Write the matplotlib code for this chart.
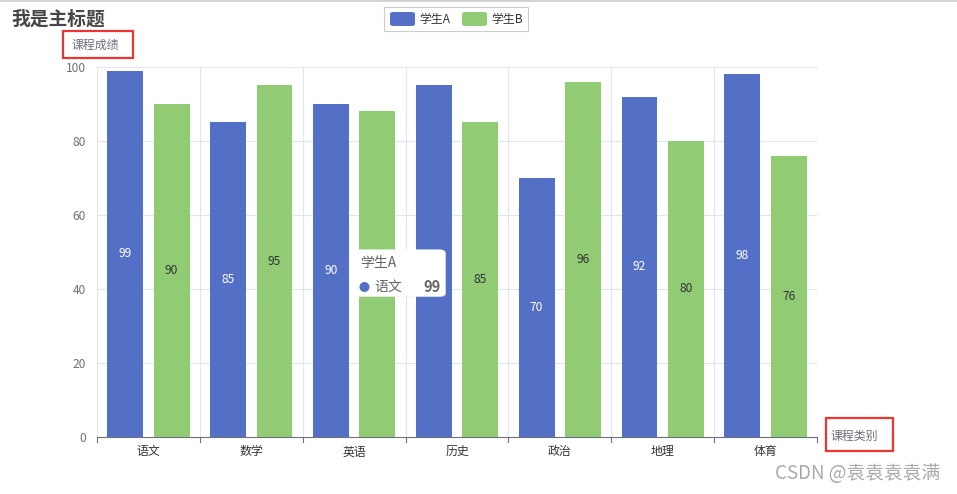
import matplotlib.pyplot as plt
from matplotlib.patches import Rectangle, FancyBboxPatch, Ellipse
import numpy as np

plt.rcParams['font.family'] = ['Noto Sans CJK SC', 'DejaVu Sans']

subjects = ['语文', '数学', '英语', '历史', '政治', '地理', '体育']
student_a = [99, 85, 90, 95, 70, 92, 98]
student_b = [90, 95, 88, 85, 96, 80, 76]
y_ticks = [0, 20, 40, 60, 80, 100]

W, H = 957, 494
fig = plt.figure(figsize=(W / 100, H / 100), dpi=100)


def fx(px):
    return px / W


def fy(py):
    return 1 - py / H


blue = '#5470c6'
green = '#91cc75'
axis_col = '#6e7079'
grid_col = '#e0e6f1'

ax = fig.add_axes([fx(97), fy(437), fx(817) - fx(97), fy(67) - fy(437)])
x = np.arange(len(subjects))
bw = 0.348
off = 0.226
ax.bar(x - off, student_a, bw, color=blue, zorder=3)
ax.bar(x + off, student_b, bw, color=green, zorder=3)

for i in range(len(subjects)):
    ax.text(x[i] - off, student_a[i] / 2, str(student_a[i]), ha='center', va='center',
            color='white', fontsize=8.6, zorder=4)
    # the 英语 label of 学生B sits under the tooltip
    if i != 2:
        ax.text(x[i] + off, student_b[i] / 2, str(student_b[i]), ha='center', va='center',
                color='#333333', fontsize=8.6, zorder=4)

ax.set_xlim(-0.5, len(subjects) - 0.5)
ax.set_ylim(0, 100)
ax.set_yticks(y_ticks)
ax.set_yticklabels([str(v) for v in y_ticks], color=axis_col, fontsize=8.6)
ax.set_xticks(x)
ax.set_xticklabels(subjects, color='#333333', fontsize=8.6)
ax.tick_params(axis='y', length=0, pad=8)
ax.tick_params(axis='x', length=0, pad=6)
for b in np.arange(-0.5, len(subjects), 1.0):
    ax.axvline(b, color=grid_col, lw=0.8, zorder=1)
    ax.plot([b, b], [0, -1.4], color=axis_col, lw=0.8, clip_on=False, zorder=5)
for v in y_ticks[1:]:
    ax.axhline(v, color=grid_col, lw=0.8, zorder=1)
for s in ['top', 'right', 'left']:
    ax.spines[s].set_visible(False)
ax.spines['bottom'].set_color(axis_col)
ax.spines['bottom'].set_linewidth(0.8)
ax.spines['bottom'].set_zorder(5)

# top border line
fig.add_artist(plt.Line2D([0, 1], [fy(1.5), fy(1.5)], color='#cccccc', lw=1.2))

# title
fig.text(fx(11), fy(19), '我是主标题', fontsize=13.5, fontweight='bold', color='#464646',
         ha='left', va='center')

# legend
fig.add_artist(Rectangle((fx(384), fy(31)), fx(528) - fx(384), fy(7) - fy(31),
                         facecolor='white', edgecolor='#cccccc', lw=0.8))
fig.add_artist(FancyBboxPatch((fx(390), fy(26)), fx(25), fy(12) - fy(26),
                              boxstyle='round,pad=0,rounding_size=0.004',
                              facecolor=blue, edgecolor='none'))
fig.text(fx(419), fy(19), '学生A', fontsize=8.6, color='#333333', ha='left', va='center')
fig.add_artist(FancyBboxPatch((fx(462), fy(26)), fx(25), fy(12) - fy(26),
                              boxstyle='round,pad=0,rounding_size=0.004',
                              facecolor=green, edgecolor='none'))
fig.text(fx(491), fy(19), '学生B', fontsize=8.6, color='#333333', ha='left', va='center')

# axis names with red boxes
fig.text(fx(72), fy(45), '课程成绩', fontsize=8.6, color=axis_col, ha='left', va='center')
fig.add_artist(Rectangle((fx(63), fy(58)), fx(70), fy(31) - fy(58),
                         facecolor='none', edgecolor='#ee3333', lw=1.6))
fig.text(fx(831), fy(436), '课程类别', fontsize=8.6, color=axis_col, ha='left', va='center')
fig.add_artist(Rectangle((fx(826), fy(451)), fx(67), fy(418) - fy(451),
                         facecolor='none', edgecolor='#ee3333', lw=1.6))

# tooltip
fig.add_artist(FancyBboxPatch((fx(352), fy(297)), fx(94), fy(251) - fy(297),
                              boxstyle='round,pad=0,rounding_size=0.006',
                              facecolor='#dddddd', edgecolor='none', alpha=0.5, zorder=9))
fig.add_artist(FancyBboxPatch((fx(351), fy(296)), fx(94), fy(250) - fy(296),
                              boxstyle='round,pad=0,rounding_size=0.006',
                              facecolor='white', edgecolor='white', lw=0.8, zorder=10))
fig.text(fx(360), fy(263), '学生A', fontsize=10, color='#666666', ha='left', va='center', zorder=11)
fig.add_artist(Ellipse((fx(364.5), fy(287)), fx(10), 10 / H,
                       facecolor=blue, edgecolor='none', zorder=11))
fig.text(fx(374), fy(287), '语文', fontsize=10, color='#666666', ha='left', va='center', zorder=11)
fig.text(fx(441), fy(287), '99', fontsize=10.5, fontweight='bold', color='#666666',
         ha='right', va='center', zorder=11)

# watermark
fig.text(fx(940), fy(473), 'CSDN @袁袁袁袁满', fontsize=13.5, color='#aaaaaa',
         ha='right', va='center')

fig.savefig('out.png', dpi=100)
